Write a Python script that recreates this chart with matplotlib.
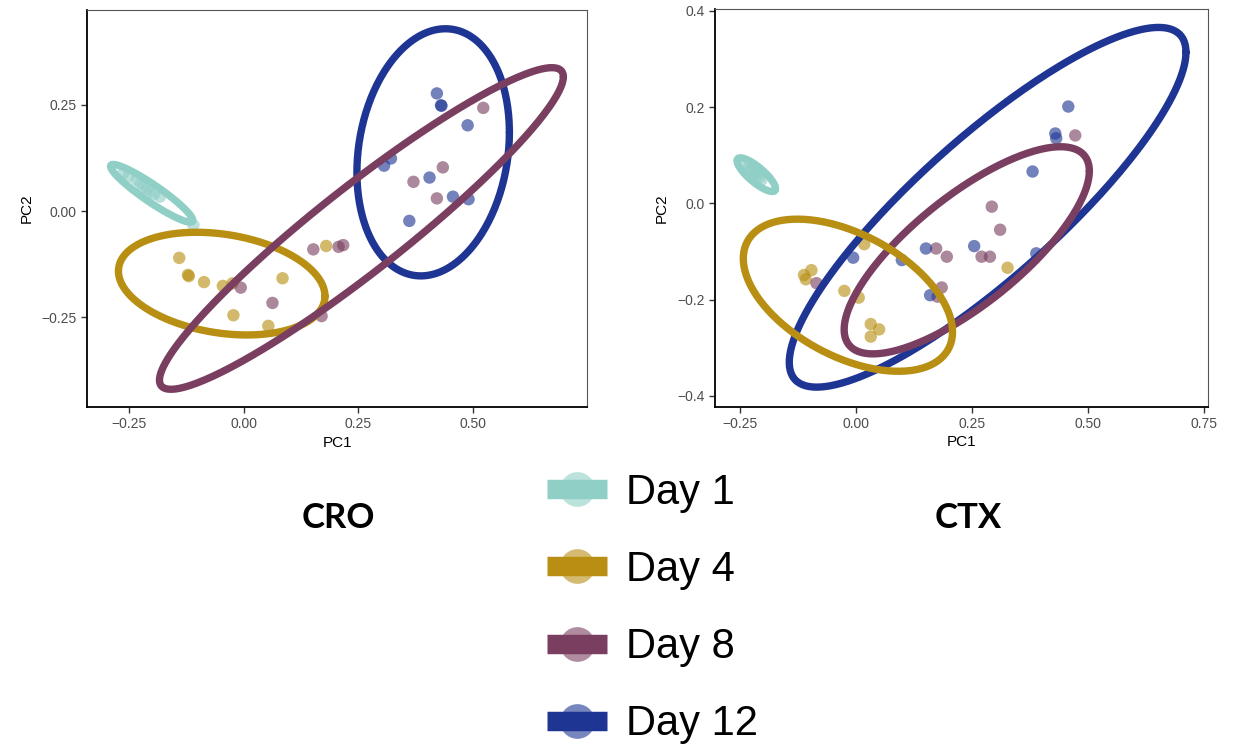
import numpy as np
import matplotlib
matplotlib.use("Agg")
import matplotlib.pyplot as plt
from matplotlib.lines import Line2D
from matplotlib.legend_handler import HandlerTuple

plt.rcParams['font.family'] = ['Liberation Sans', 'DejaVu Sans']

# groups and colours
days = ['Day 1', 'Day 4', 'Day 8', 'Day 12']
colors = ['#90cfc6', '#b88f12', '#7a3f60', '#1f3594']

# ---- CRO panel: PCA scores ----
cro_x = {
    'Day 1': [-0.262, -0.250, -0.233, -0.225, -0.218, -0.210, -0.204, -0.195, -0.182, -0.109],
    'Day 4': [-0.140, -0.119, -0.121, -0.086, -0.045, -0.024, 0.085, -0.022, 0.054, 0.180],
    'Day 8': [0.522, 0.434, 0.370, 0.421, 0.152, 0.207, 0.217, -0.006, 0.063, 0.170],
    'Day 12': [0.421, 0.430, 0.431, 0.488, 0.321, 0.306, 0.405, 0.456, 0.490, 0.361],
}
cro_y = {
    'Day 1': [0.089, 0.082, 0.073, 0.065, 0.057, 0.052, 0.045, 0.040, 0.034, -0.033],
    'Day 4': [-0.110, -0.153, -0.150, -0.167, -0.176, -0.170, -0.158, -0.245, -0.270, -0.082],
    'Day 8': [0.243, 0.103, 0.069, 0.030, -0.090, -0.084, -0.080, -0.180, -0.216, -0.247],
    'Day 12': [0.277, 0.249, 0.248, 0.202, 0.124, 0.107, 0.079, 0.034, 0.028, -0.023],
}
# ellipse: centre, two conjugate semi-diameters
cro_center = {'Day 1': (-0.200, 0.042), 'Day 4': (-0.0475, -0.1706),
              'Day 8': (0.2567, -0.0408), 'Day 12': (0.4129, 0.1384)}
cro_u = {'Day 1': (0.0889, -0.0659), 'Day 4': (0.2248, -0.0294),
         'Day 8': (0.4397, 0.3569), 'Day 12': (0.166, 0.047)}
cro_v = {'Day 1': (0.0105, 0.0165), 'Day 4': (0.0, -0.1172),
         'Day 8': (0.0, -0.1259), 'Day 12': (0.0, -0.287)}
cro_order = ['Day 12', 'Day 1', 'Day 4', 'Day 8']

# ---- CTX panel ----
ctx_x = {
    'Day 1': [-0.236, -0.230, -0.222, -0.218, -0.211, -0.207, -0.204, -0.226, -0.215, -0.220],
    'Day 4': [0.018, -0.096, -0.112, -0.108, -0.025, 0.006, 0.032, 0.050, 0.032, 0.327],
    'Day 8': [0.473, 0.293, 0.311, 0.173, 0.196, 0.271, 0.289, 0.185, 0.176, -0.085],
    'Day 12': [0.458, 0.430, 0.432, 0.381, 0.255, 0.151, -0.006, 0.099, 0.389, 0.160],
}
ctx_y = {
    'Day 1': [0.083, 0.078, 0.073, 0.068, 0.062, 0.055, 0.048, 0.070, 0.060, 0.065],
    'Day 4': [-0.085, -0.139, -0.149, -0.158, -0.182, -0.196, -0.251, -0.262, -0.277, -0.134],
    'Day 8': [0.141, -0.007, -0.055, -0.094, -0.111, -0.111, -0.111, -0.175, -0.194, -0.166],
    'Day 12': [0.201, 0.145, 0.135, 0.066, -0.089, -0.094, -0.113, -0.118, -0.104, -0.191],
}
ctx_center = {'Day 1': (-0.2150, 0.0595), 'Day 4': (-0.0173, -0.191),
              'Day 8': (0.239, -0.0977), 'Day 12': (0.284, -0.0083)}
ctx_u = {'Day 1': (0.0400, -0.0330), 'Day 4': (0.2256, -0.0763),
         'Day 8': (0.2644, 0.1646), 'Day 12': (0.4278, 0.3221)}
ctx_v = {'Day 1': (0.0110, 0.0115), 'Day 4': (0.0, -0.1384),
         'Day 8': (0.0, -0.1386), 'Day 12': (0.0, -0.1895)}
ctx_order = ['Day 12', 'Day 1', 'Day 8', 'Day 4']


def draw_panel(ax, xs, ys, centers, us, vs, order, xlim, ylim, xticks, yticks, xfmt, yfmt):
    t = np.linspace(0, 2 * np.pi, 300)
    for d, c in zip(days, colors):
        ax.scatter(xs[d], ys[d], s=80, color=c, alpha=0.62, edgecolor='none', zorder=2)
    for k, d in enumerate(order):
        c = colors[days.index(d)]
        cx, cy = centers[d]
        ux, uy = us[d]
        vx, vy = vs[d]
        ax.plot(cx + ux * np.cos(t) + vx * np.sin(t),
                cy + uy * np.cos(t) + vy * np.sin(t),
                color=c, lw=5.3, zorder=3 + k, solid_capstyle='round')
    ax.set_xlim(xlim)
    ax.set_ylim(ylim)
    ax.set_xticks(xticks)
    ax.set_yticks(yticks)
    ax.set_xticklabels([xfmt.format(v).replace('-', '\u2212') for v in xticks])
    ax.set_yticklabels([yfmt.format(v).replace('-', '\u2212') for v in yticks])
    ax.tick_params(labelsize=10, labelcolor='#4d4d4d', length=4, width=1, color='#333333')
    ax.set_xlabel('PC1', fontsize=11, labelpad=3)
    ax.set_ylabel('PC2', fontsize=11, labelpad=6)
    for s in ['top', 'right']:
        ax.spines[s].set_color('#555555')
        ax.spines[s].set_linewidth(0.8)
    for s in ['left', 'bottom']:
        ax.spines[s].set_color('black')
        ax.spines[s].set_linewidth(1.3)


fig = plt.figure(figsize=(12.48, 7.46), dpi=100)
ax1 = fig.add_axes([0.070, 0.4544, 0.4004, 0.532])
ax2 = fig.add_axes([0.5729, 0.4548, 0.3953, 0.5327])

draw_panel(ax1, cro_x, cro_y, cro_center, cro_u, cro_v, cro_order,
           (-0.340, 0.748), (-0.461, 0.473),
           [-0.25, 0.0, 0.25, 0.5], [-0.25, 0.0, 0.25], '{:.2f}', '{:.2f}')
draw_panel(ax2, ctx_x, ctx_y, ctx_center, ctx_u, ctx_v, ctx_order,
           (-0.304, 0.760), (-0.4227, 0.403),
           [-0.25, 0.0, 0.25, 0.5, 0.75], [-0.4, -0.2, 0.0, 0.2, 0.4], '{:.2f}', '{:.1f}')

fig.text(0.271, 0.305, 'CRO', fontsize=25, fontweight='bold', ha='center', va='center',
         family=['Lato', 'DejaVu Sans'])
fig.text(0.776, 0.305, 'CTX', fontsize=25, fontweight='bold', ha='center', va='center',
         family=['Lato', 'DejaVu Sans'])

handles = []
for c in colors:
    dot = Line2D([], [], marker='o', linestyle='none', markersize=25,
                 markerfacecolor=c, markeredgecolor='none', alpha=0.6)
    bar = Line2D([], [], color=c, lw=14, solid_capstyle='butt')
    handles.append((dot, bar))

fig.legend(handles, days, handler_map={tuple: HandlerTuple(ndivide=1, pad=0)},
           loc='upper left', bbox_to_anchor=(0.438, 0.366), frameon=False,
           fontsize=30, handlelength=1.46, handletextpad=0.45, labelspacing=0.89,
           borderpad=0, borderaxespad=0)

fig.savefig('out.png', dpi=100)
